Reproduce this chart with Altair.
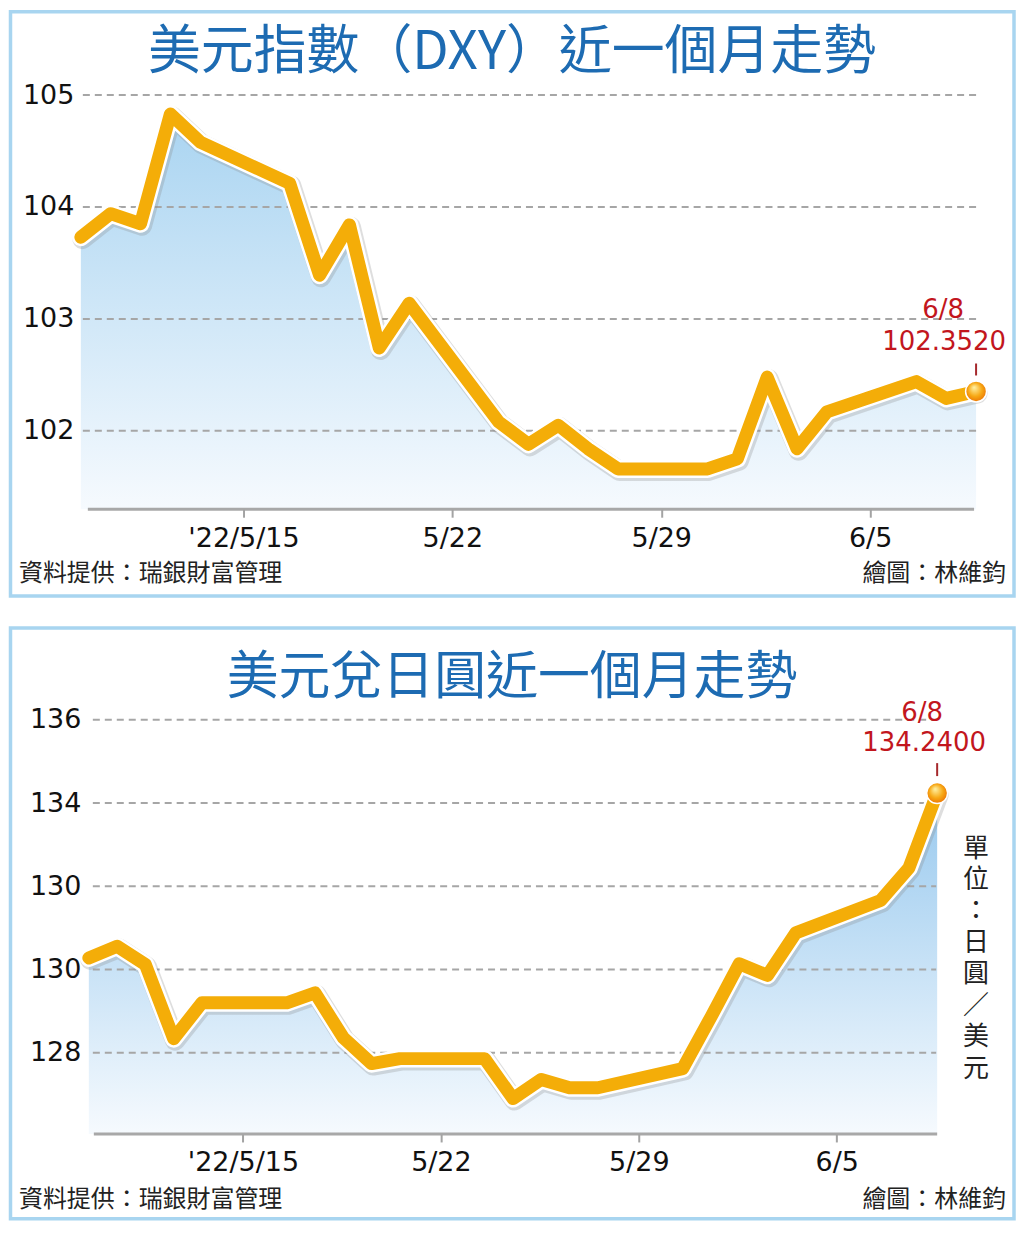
import json
import altair as alt
import pandas as pd

# ------------------------------------------------------------------ data
dates = ["2022-05-09", "2022-05-10", "2022-05-11", "2022-05-12", "2022-05-13",
         "2022-05-16", "2022-05-17", "2022-05-18", "2022-05-19", "2022-05-20",
         "2022-05-23", "2022-05-24", "2022-05-25", "2022-05-26", "2022-05-27",
         "2022-05-30", "2022-05-31", "2022-06-01", "2022-06-02", "2022-06-03",
         "2022-06-06", "2022-06-07", "2022-06-08"]
dxy_values = [103.73, 103.94, 103.85, 104.83, 104.58,
              104.21, 103.39, 103.84, 102.74, 103.14,
              102.08, 101.88, 102.05, 101.84, 101.66,
              101.66, 101.75, 102.48, 101.84, 102.17,
              102.44, 102.29, 102.352]
jpy_values = [130.28, 130.56, 130.12, 128.34, 129.20,
              129.20, 129.44, 128.36, 127.74, 127.86,
              127.86, 126.90, 127.36, 127.16, 127.16,
              127.62, 128.86, 130.14, 129.86, 130.88,
              131.66, 132.44, 134.24]

tick_dates = ["2022-05-15", "2022-05-22", "2022-05-29", "2022-06-05"]
tick_labels = ["'22/5/15", "5/22", "5/29", "6/5"]

dxy_yticks = [102, 103, 104, 105]
dxy_ylabels = ["102", "103", "104", "105"]
jpy_yticks = [128, 130, 132, 134, 136]
jpy_ylabels = ["128", "130", "130", "134", "136"]

dxy_title = "美元指數（DXY）近一個月走勢"
jpy_title = "美元兌日圓近一個月走勢"
source_text = "資料提供：瑞銀財富管理"
credit_text = "繪圖：林維鈞"
unit_text = "單位：日圓／美元"

# ------------------------------------------------------------------ style
NUM_FONT = "DejaVu Sans"
CJK_FONT = "Noto Sans CJK TC"
BLUE = "#1d6bb2"
FRAME = "#a8d5f0"
RED = "#c2161d"
LINE = "#f4ad08"
GRID = "#a6a6a6"
TICK_SHIFT = -0.55

start = pd.Timestamp(dates[0])


def label_expr(values, labels):
    expr = '""'
    for v, l in reversed(list(zip(values, labels))):
        expr = f"abs(datum.value - {v}) < 0.3 ? {json.dumps(l)} : ({expr})"
    return expr


def one(text):
    return pd.DataFrame({"t": [text]})


def make_panel(values, yticks, ylabels, y_domain, title, title_size, x_min, width, height,
               frame_y0, frame_y1, grid_x, base_x, ylab_pad, grad_top,
               title_y, src_y, ann, unit=False):
    df = pd.DataFrame({"date": pd.to_datetime(dates), "v": values})
    df["day"] = (df["date"] - start).dt.days
    last = df.iloc[[-1]].copy()
    last["lab_date"] = [f"{d.month}/{d.day}" for d in last["date"]]
    last["lab_val"] = [f"{v:.4f}" for v in last["v"]]
    x_max = int(df["day"].max())

    tick_pos = [(pd.Timestamp(t) - start).days + TICK_SHIFT for t in tick_dates]

    xs = alt.Scale(domain=[x_min, x_max], nice=False, zero=False)
    ys = alt.Scale(domain=y_domain, nice=False, zero=False)

    x_axis = alt.Axis(values=tick_pos, labelExpr=label_expr(tick_pos, tick_labels),
                      title=None, grid=False, domain=False, ticks=True,
                      tickColor="#a3a3a3", tickWidth=2, tickSize=8,
                      labelFont=NUM_FONT, labelFontSize=27, labelColor="#111111",
                      labelPadding=8, labelFlush=False, labelOverlap=False, zindex=2)
    y_axis = alt.Axis(values=yticks, labelExpr=label_expr(yticks, ylabels),
                      title=None, grid=False, domain=False, ticks=False,
                      labelFont=NUM_FONT, labelFontSize=27, labelColor="#111111",
                      labelPadding=ylab_pad, labelOverlap=False, zindex=2)

    X = alt.X("day:Q", scale=xs, axis=x_axis)
    Y = alt.Y("v:Q", scale=ys, axis=y_axis)

    frame = alt.Chart(one("")).mark_rect(fill="white", stroke=FRAME, strokeWidth=3.5).encode(
        x=alt.value(-70.5), x2=alt.value(935), y=alt.value(frame_y0), y2=alt.value(frame_y1))

    area = alt.Chart(df).mark_area(
        color=alt.LinearGradient(
            gradient="linear",
            stops=[alt.GradientStop(color=grad_top, offset=0),
                   alt.GradientStop(color="#f6fafe", offset=1)],
            x1=1, x2=1, y1=0, y2=1),
        interpolate="linear").encode(x=X, y=Y, y2=alt.datum(y_domain[0]))

    grid_df = pd.DataFrame({"v": yticks})
    grid = alt.Chart(grid_df).mark_rule(color=GRID, strokeWidth=2, strokeDash=[7, 5]).encode(
        y=Y, x=alt.value(grid_x[0]), x2=alt.value(grid_x[1]))

    base = alt.Chart(one("")).mark_rule(color="#a8a8a8", strokeWidth=3).encode(
        x=alt.value(base_x[0]), x2=alt.value(base_x[1]), y=alt.value(height))

    shadow = alt.Chart(df).mark_line(color="#8a8a8a", strokeWidth=20, opacity=0.28,
                                     xOffset=1.5, yOffset=2, strokeJoin="round",
                                     strokeCap="round").encode(x=X, y=Y)
    halo = alt.Chart(df).mark_line(color="#ffffff", strokeWidth=18, strokeJoin="round",
                                   strokeCap="round").encode(x=X, y=Y)
    line = alt.Chart(df).mark_line(color=LINE, strokeWidth=13, strokeJoin="round",
                                   strokeCap="round").encode(x=X, y=Y)

    tick = alt.Chart(last).mark_rule(color="#a5282c", strokeWidth=2,
                                     yOffset=ann["t0"], y2Offset=ann["t1"]).encode(
        x=X, y=Y, y2=alt.Y2("v:Q"))

    dot = alt.Chart(last).mark_circle(
        size=440, opacity=1, stroke="#ffffff", strokeWidth=1.5,
        fill=alt.RadialGradient(
            gradient="radial",
            stops=[alt.GradientStop(color="#fff3a8", offset=0),
                   alt.GradientStop(color="#f7a814", offset=0.55),
                   alt.GradientStop(color="#e86500", offset=1)],
            x1=0.4, y1=0.3, r1=0, x2=0.5, y2=0.5, r2=0.6)).encode(x=X, y=Y)

    ann_date = alt.Chart(last).mark_text(font=NUM_FONT, fontSize=26, color=RED,
                                         dx=ann["dx1"], dy=ann["dy1"]).encode(
        x=X, y=Y, text="lab_date:N")
    ann_val = alt.Chart(last).mark_text(font=NUM_FONT, fontSize=26, color=RED,
                                        dx=ann["dx2"], dy=ann["dy2"]).encode(
        x=X, y=Y, text="lab_val:N")

    title_mark = alt.Chart(one(title)).mark_text(font=CJK_FONT, fontSize=title_size, color=BLUE,
                                                 align="center", baseline="middle").encode(
        x=alt.value(432), y=alt.value(title_y), text="t:N")
    src = alt.Chart(one(source_text)).mark_text(font=CJK_FONT, fontSize=24, color="#222222",
                                                align="left", baseline="middle").encode(
        x=alt.value(-62), y=alt.value(src_y), text="t:N")
    cred = alt.Chart(one(credit_text)).mark_text(font=CJK_FONT, fontSize=24, color="#222222",
                                                 align="right", baseline="middle").encode(
        x=alt.value(927), y=alt.value(src_y), text="t:N")

    layers = [frame, area, grid, base, shadow, halo, line, tick, dot,
              ann_date, ann_val, title_mark, src, cred]
    if unit:
        unit_mark = alt.Chart(one("\n".join(unit_text))).mark_text(
            font=CJK_FONT, fontSize=26, color="#222222", align="center",
            baseline="top", lineBreak="\n", lineHeight=31.5).encode(
            x=alt.value(897), y=alt.value(116), text="t:N")
        layers.append(unit_mark)

    return alt.layer(*layers).properties(width=width, height=height)


top = make_panel(dxy_values, dxy_yticks, dxy_ylabels, [101.3, 105], dxy_title, 53,
                 0, 897, 415, -83.5, 502, (2, 898), (7, 895), 7, "#a9d4f1",
                 -42, 480,
                 {"dx1": -33, "dy1": -82, "dx2": -32, "dy2": -50, "t0": -28, "t1": -16})

bottom = make_panel(jpy_values, jpy_yticks, jpy_ylabels, [126.05, 136], jpy_title, 52,
                    -0.282, 858, 415, -92, 500, (12, 857), (13, 858), 0, "#98c9ee",
                    -42, 481,
                    {"dx1": -15, "dy1": -80, "dx2": -13, "dy2": -50, "t0": -30, "t1": -17},
                    unit=True)

chart = alt.vconcat(top, bottom, spacing=28).properties(
    padding=0, background="white"
).configure_view(strokeWidth=0)

chart.save("out.html", embed_options={"renderer": "svg", "actions": False})
